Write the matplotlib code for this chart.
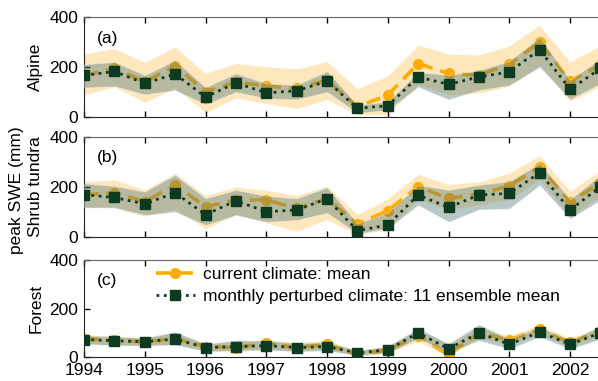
import matplotlib
matplotlib.use("Agg")
import matplotlib.pyplot as plt

plt.rcParams['font.family'] = ['Liberation Sans', 'DejaVu Sans']
plt.rcParams['font.size'] = 12.5

# half-yearly dates
years = [1994, 1994.5, 1995, 1995.5, 1996, 1996.5, 1997, 1997.5, 1998,
         1998.5, 1999, 1999.5, 2000, 2000.5, 2001, 2001.5, 2002, 2002.5]

# Alpine
alp_pert = [166, 182, 134, 172, 79, 136, 96, 104, 143, 34, 44, 160, 130, 160, 180, 270, 110, 194]
alp_cur = [166, 194, 140, 204, 100, 140, 123, 114, 147, 40, 87, 214, 174, 167, 211, 300, 144, 207]
alp_cur_hi = [254, 276, 220, 283, 176, 216, 203, 194, 224, 114, 167, 290, 254, 250, 287, 371, 223, 287]
alp_cur_lo = [87, 118, 56, 114, 14, 74, 51, 31, 67, 7, 7, 127, 87, 94, 120, 207, 60, 120]
alp_pert_hi = [211, 220, 167, 227, 118, 174, 134, 127, 183, 47, 60, 180, 167, 187, 223, 320, 147, 234]
alp_pert_lo = [118, 123, 90, 107, 50, 100, 74, 70, 100, 16, 27, 120, 70, 107, 127, 200, 70, 134]

# Shrub tundra
shr_pert = [168, 157, 131, 176, 88, 144, 100, 107, 152, 24, 47, 167, 117, 167, 173, 256, 107, 200]
shr_cur = [168, 176, 140, 207, 120, 147, 147, 113, 152, 51, 104, 200, 153, 171, 203, 280, 140, 213]
shr_cur_hi = [223, 229, 189, 256, 167, 200, 187, 167, 204, 91, 153, 251, 211, 221, 256, 327, 184, 267]
shr_cur_lo = [117, 113, 80, 109, 29, 87, 53, 20, 67, 7, 27, 147, 107, 127, 147, 227, 80, 160]
shr_pert_hi = [213, 203, 180, 247, 153, 187, 163, 153, 197, 53, 96, 207, 187, 207, 221, 293, 149, 247]
shr_pert_lo = [117, 117, 87, 100, 47, 87, 60, 67, 96, 13, 33, 127, 60, 109, 113, 207, 73, 147]

# Forest
for_pert = [73, 68, 64, 75, 40, 44, 48, 40, 44, 18, 31, 100, 35, 101, 53, 104, 53, 101]
for_cur = [77, 70, 64, 77, 44, 40, 57, 40, 53, 11, 31, 88, 10, 101, 71, 117, 62, 107]
for_cur_hi = [95, 88, 82, 100, 58, 62, 75, 62, 72, 30, 50, 110, 60, 120, 90, 135, 80, 125]
for_cur_lo = [55, 50, 45, 55, 22, 20, 35, 22, 32, 2, 15, 65, 0, 80, 50, 95, 42, 85]
for_pert_hi = [90, 85, 80, 105, 55, 70, 68, 58, 62, 28, 45, 120, 55, 135, 75, 125, 68, 130]
for_pert_lo = [55, 50, 48, 52, 25, 28, 30, 25, 28, 8, 18, 78, 20, 70, 35, 85, 35, 75]

panels = [
    ("(a)", "Alpine", alp_cur, alp_cur_lo, alp_cur_hi, alp_pert, alp_pert_lo, alp_pert_hi),
    ("(b)", "Shrub tundra", shr_cur, shr_cur_lo, shr_cur_hi, shr_pert, shr_pert_lo, shr_pert_hi),
    ("(c)", "Forest", for_cur, for_cur_lo, for_cur_hi, for_pert, for_pert_lo, for_pert_hi),
]

orange = '#ffac00'
band_or = '#ffe7bd'
band_teal = '#557c7a'
dkgreen = '#0d3b22'

fig = plt.figure(figsize=(5.98, 3.81), dpi=100)
boxes = [(0.1405, 0.6937, 0.8636, 0.2609),
         (0.1405, 0.3787, 0.8636, 0.2625),
         (0.1405, 0.0622, 0.8636, 0.2554)]

axes = []
for (tag, name, cur, cur_lo, cur_hi, pert, pert_lo, pert_hi), box in zip(panels, boxes):
    ax = fig.add_axes(box)
    ax.fill_between(years, cur_lo, cur_hi, color=band_or, lw=0.6, edgecolor='white', zorder=1)
    l1, = ax.plot(years, cur, color=orange, lw=2.6, dashes=(4, 2.2), marker='o', ms=7,
                  mfc=orange, mec=orange, zorder=2, label='current climate: mean')
    ax.fill_between(years, pert_lo, pert_hi, color=band_teal, alpha=0.42, lw=0.6,
                    edgecolor='#e8eeee', zorder=3)
    l2, = ax.plot(years, pert, color=dkgreen, lw=2, ls=':', marker='s', ms=6.5,
                  mfc=dkgreen, mec=dkgreen, zorder=4,
                  label='monthly perturbed climate: 11 ensemble mean')
    ax.set_xlim(1994, 2002.5)
    ax.set_ylim(0, 400)
    ax.set_yticks([0, 200, 400])
    ax.set_xticks(range(1994, 2003))
    ax.tick_params(direction='in', top=True, right=False, length=4, width=1, pad=4)
    ax.tick_params(axis='x', pad=4)
    ax.spines['right'].set_visible(False)
    for s in ['left', 'bottom']:
        ax.spines[s].set_color('#222222')
    ax.spines['top'].set_color('#666666')
    ax.text(0.025, 0.79, tag, transform=ax.transAxes, va='center', ha='left')
    ax.set_ylabel(name)
    ax.yaxis.set_label_coords(-0.079, 0.5)
    axes.append(ax)

for ax in axes[:2]:
    ax.set_xticklabels([])

axes[2].legend(handles=[l1, l2], loc='upper left', bbox_to_anchor=(0.14, 0.93),
               frameon=False, borderpad=0, borderaxespad=0, handlelength=2.2,
               handletextpad=0.5, labelspacing=0.4)

fig.text(0.028, 0.5, 'peak SWE (mm)', rotation=90, va='center', ha='center')

fig.savefig('out.png', dpi=100)
